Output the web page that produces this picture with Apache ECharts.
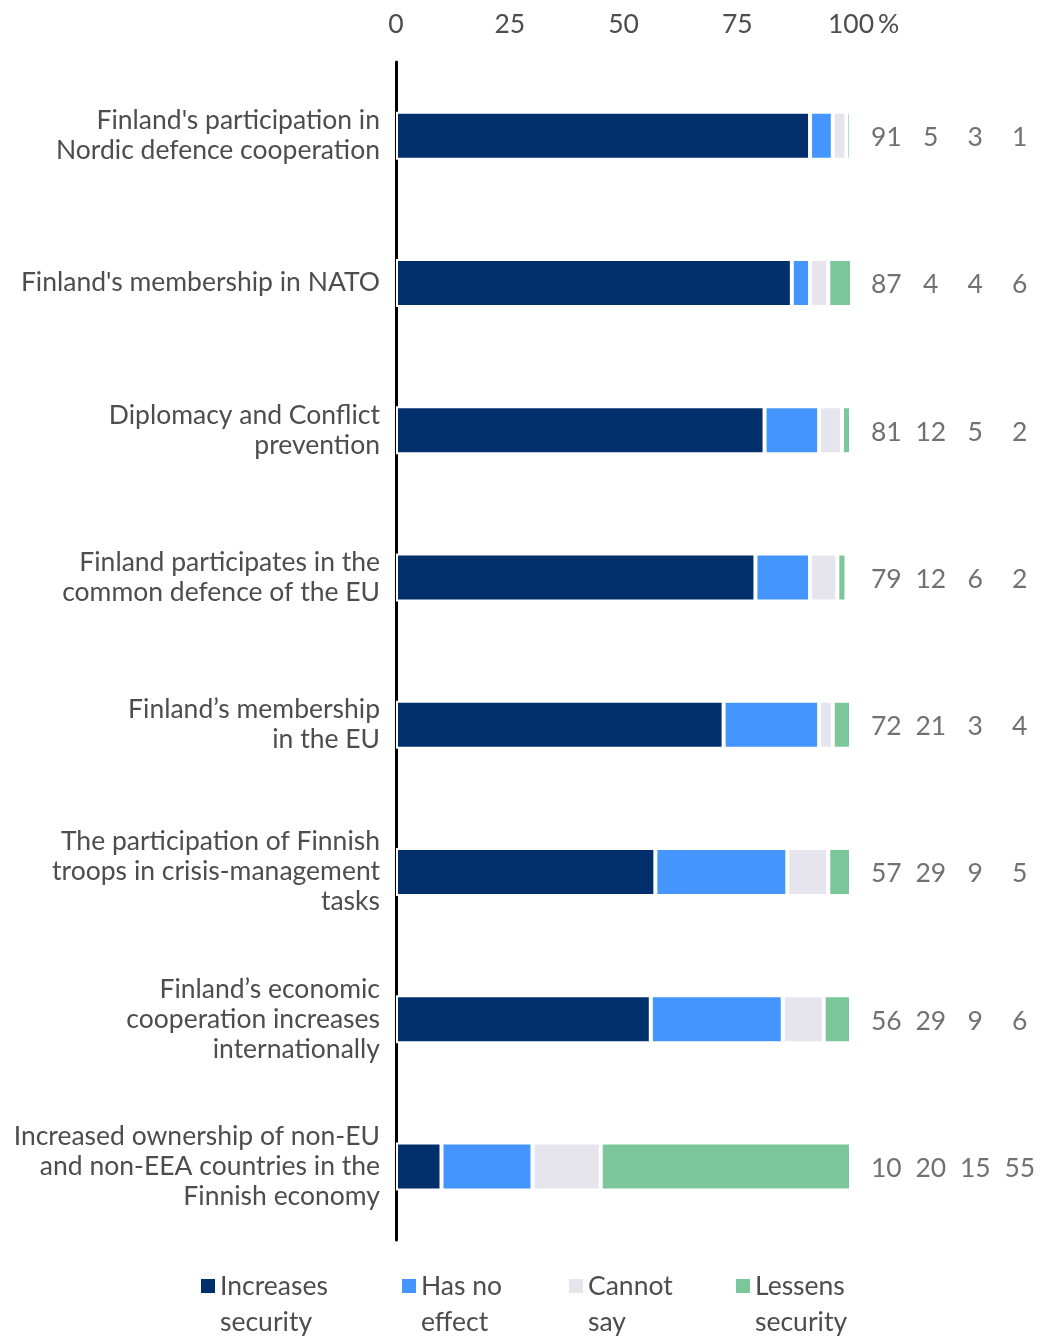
<!DOCTYPE html>
<html><head><meta charset="utf-8">
<script src="https://cdn.jsdelivr.net/npm/echarts@6/dist/echarts.min.js"></script>
<style>html,body{margin:0;padding:0;background:#fff}#c{width:1042px;height:1337px}</style>
</head><body><div id="c"></div>
<script>
const categories = [
  "Finland's participation in\nNordic defence cooperation",
  "Finland's membership in NATO",
  "Diplomacy and Conflict\nprevention",
  "Finland participates in the\ncommon defence of the EU",
  "Finland’s membership\nin the EU",
  "The participation of Finnish\ntroops in crisis-management\ntasks",
  "Finland’s economic\ncooperation increases\ninternationally",
  "Increased ownership of non-EU\nand non-EEA countries in the\nFinnish economy"
];
const seriesNames = ["Increases\nsecurity", "Has no\neffect", "Cannot\nsay", "Lessens\nsecurity"];
const increases = [91, 87, 81, 79, 72, 57, 56, 10];
const noEffect  = [5, 4, 12, 12, 21, 29, 29, 20];
const cannotSay = [3, 4, 5, 6, 3, 9, 9, 15];
const lessens   = [1, 6, 2, 2, 4, 5, 6, 55];
const xTicks = [0, 25, 50, 75, 100];
const colors = ["#002f6c", "#4595ff", "#e6e4ec", "#7bc79a"];

const allValues = [increases, noEffect, cannotSay, lessens];
const FONT = "Lato";
const FS = 26.5;
const TXT = "#4d4d4d";

const barSeries = allValues.map((vals, i) => ({
  name: seriesNames[i], type: 'bar', stack: 'total',
  xAxisIndex: 0, yAxisIndex: 0,
  barWidth: 48, data: vals,
  itemStyle: { color: colors[i], borderColor: '#fff', borderWidth: 2 }
}));

const valueSeries = allValues.map((vals, i) => ({
  type: 'scatter', xAxisIndex: 1, yAxisIndex: 1, symbolSize: 0, silent: true,
  data: vals.map((v, j) => [i, j, v]),
  label: { show: true, position: 'inside', formatter: p => String(p.data[2]),
    fontFamily: FONT, fontSize: FS, color: TXT, offset: [0, 2] }
}));

const legendLefts = [196, 397, 564, 731];
const legends = seriesNames.map((n, i) => ({
  data: [{ name: n, itemStyle: { borderWidth: 0 } }], left: legendLefts[i], top: 1227,
  itemWidth: 14, itemHeight: 14, itemGap: 0, icon: 'rect',
  selectedMode: false,
  formatter: name => '\n' + name,
  textStyle: { fontFamily: FONT, fontSize: FS, color: TXT, lineHeight: 36 }
}));

const chart = echarts.init(document.getElementById('c'), null, { renderer: 'canvas' });
chart.setOption({
  animation: false,
  backgroundColor: '#fff',
  color: colors,
  legend: legends,
  grid: [
    { left: 396, right: 191, top: 62, bottom: 97, containLabel: false },
    { left: 864, right: 0, top: 62, bottom: 97, containLabel: false }
  ],
  xAxis: [
    { type: 'value', gridIndex: 0, position: 'top', min: 0, max: 100, interval: 25,
      axisLine: { show: false }, axisTick: { show: false }, splitLine: { show: false },
      axisLabel: { margin: 24, fontFamily: FONT, fontSize: FS, color: TXT,
        formatter: v => xTicks.indexOf(v) >= 0 ? String(v) : '' } },
    { type: 'value', gridIndex: 1, min: -0.5, max: 3.5, show: false }
  ],
  yAxis: [
    { type: 'category', gridIndex: 0, data: categories, inverse: true,
      axisLine: { show: true, lineStyle: { color: '#000', width: 3 } },
      axisTick: { show: false },
      axisLabel: { margin: 16, fontFamily: FONT, fontSize: FS, color: TXT, lineHeight: 30, align: 'right' } },
    { type: 'category', gridIndex: 1, data: categories, inverse: true, show: false }
  ],
  graphic: [
    { type: 'text', left: 878, top: 11, style: { text: '%', font: FS + 'px ' + FONT, fill: TXT } }
  ],
  series: barSeries.concat(valueSeries)
});
</script></body></html>
